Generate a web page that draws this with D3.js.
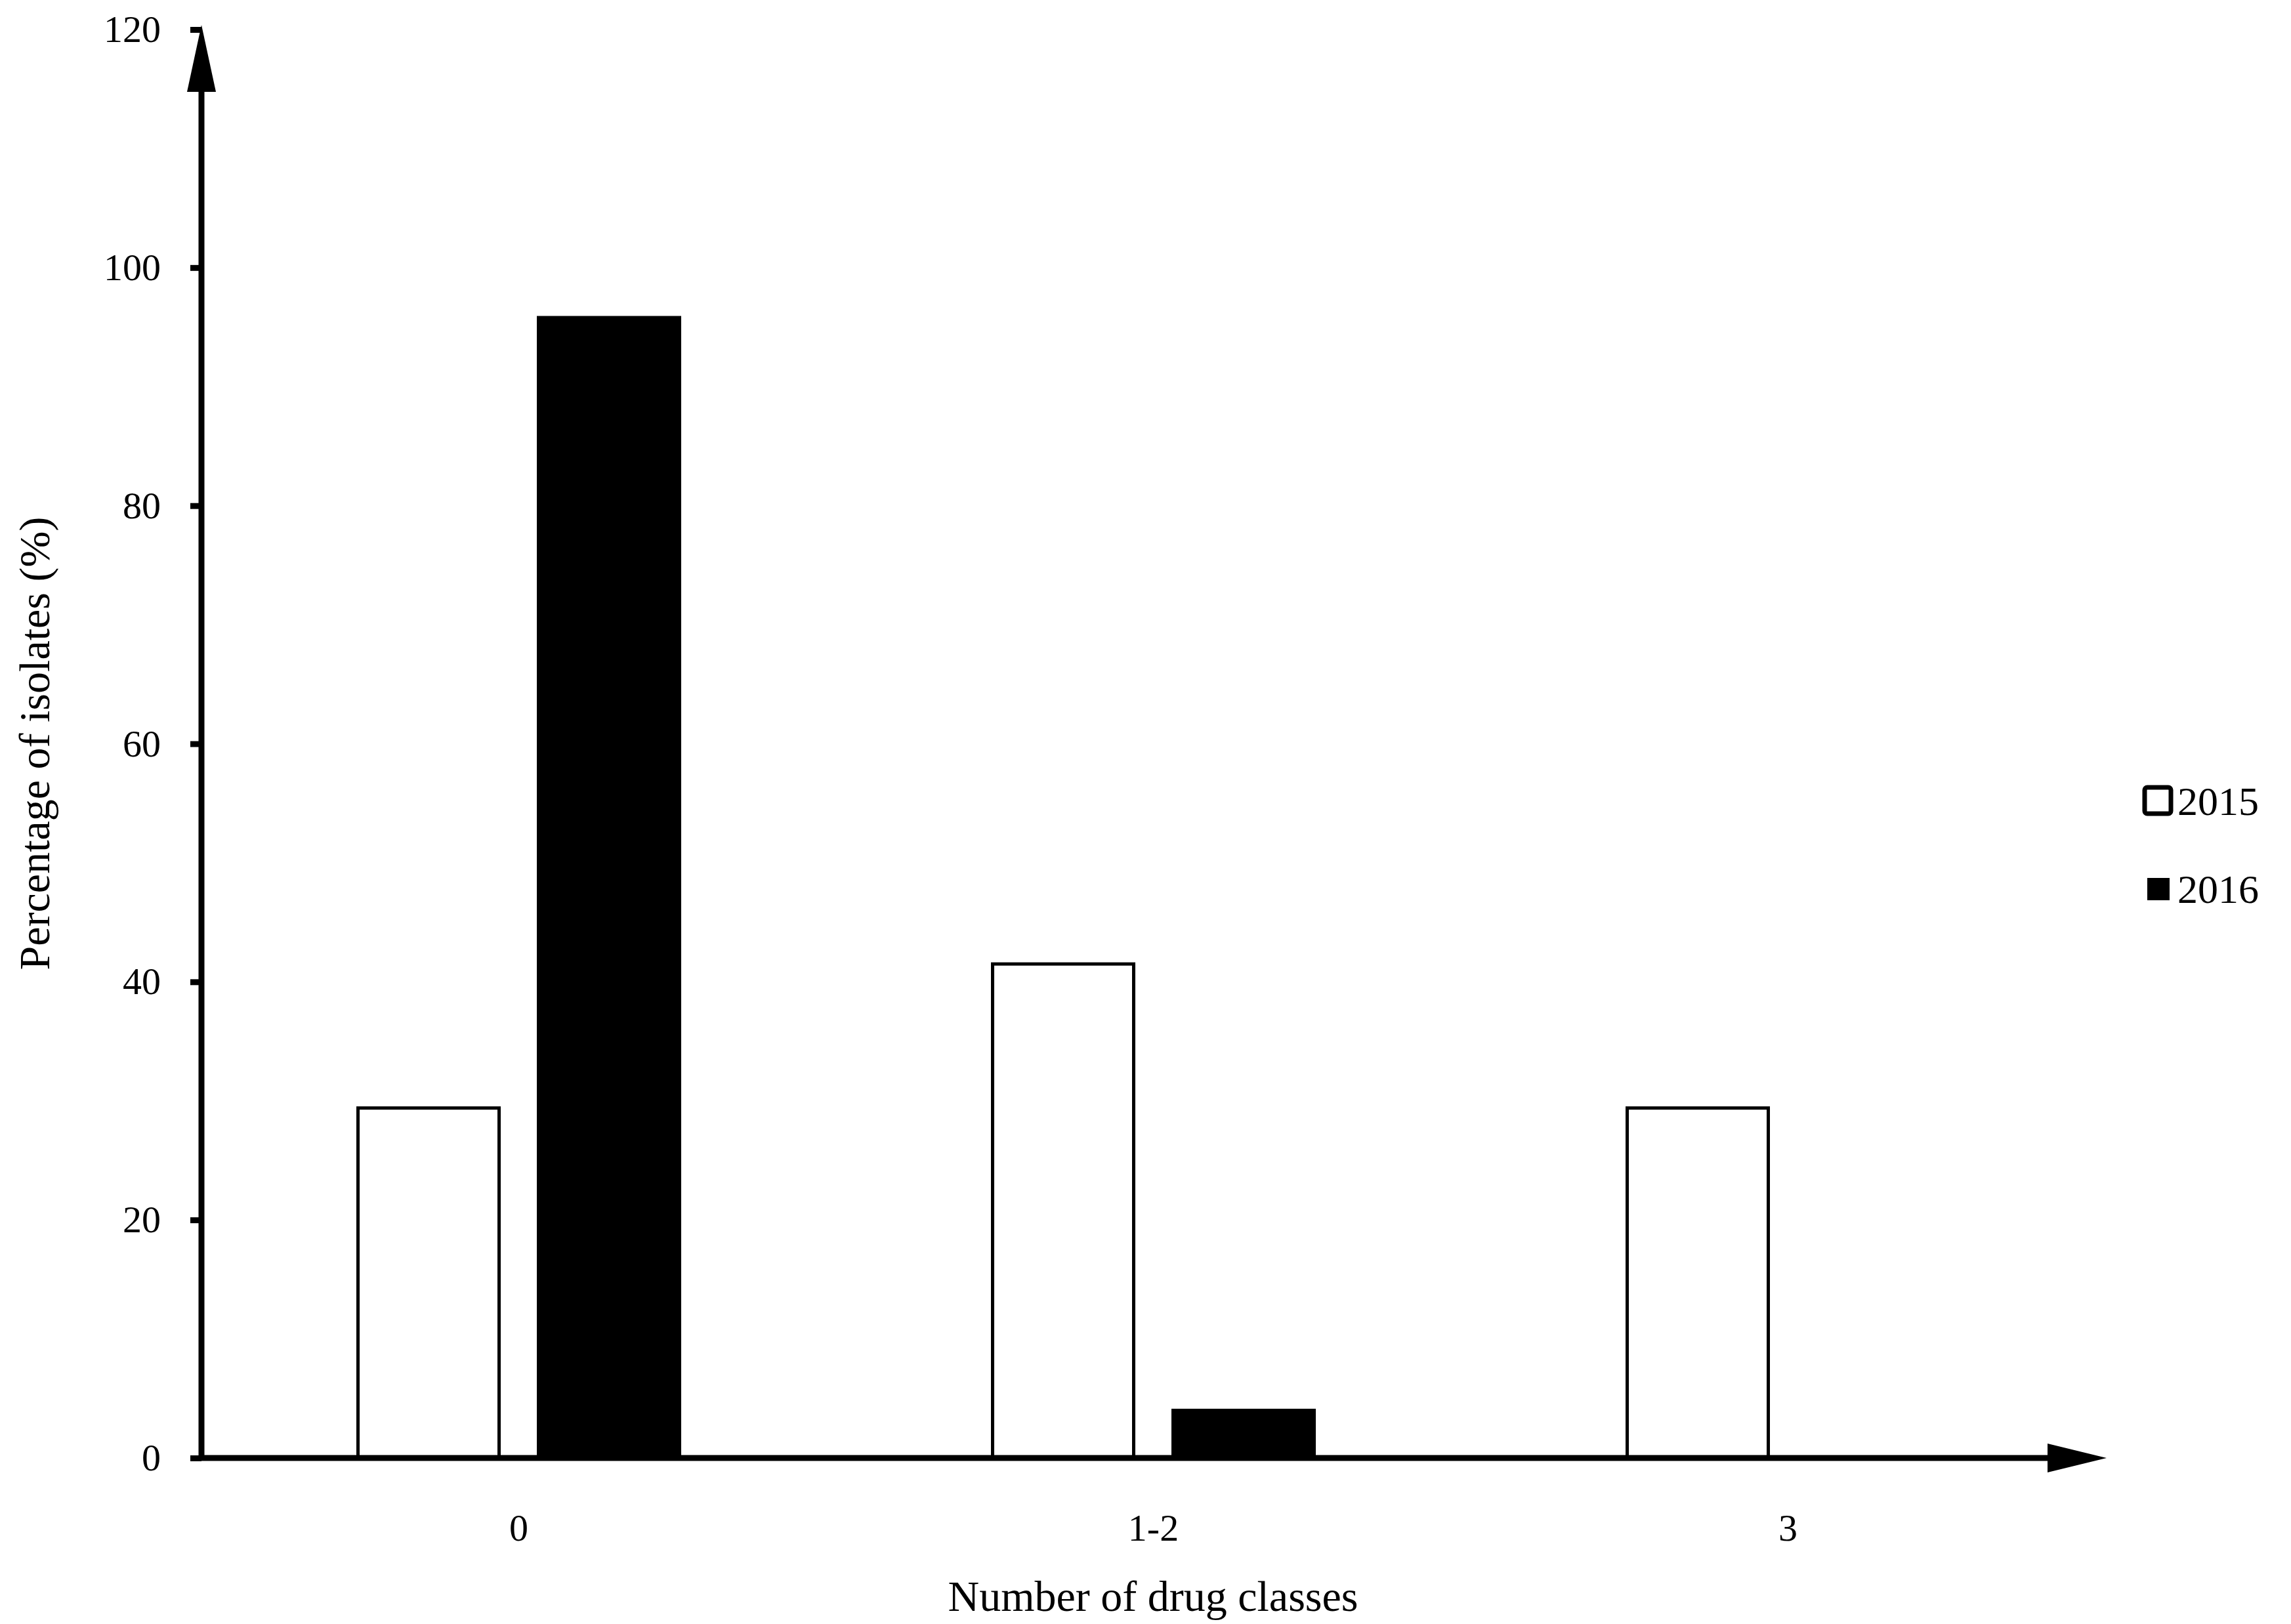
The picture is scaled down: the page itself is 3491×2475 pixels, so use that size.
<!DOCTYPE html><html><head><meta charset="utf-8"><script src="https://cdn.jsdelivr.net/npm/d3@7"></script>
<style>body{margin:0;background:#fff}text{font-family:"Liberation Serif","Times New Roman",serif;fill:#000}</style></head><body><svg id="c" width="3491" height="2475"></svg><script>
const categories=["0","1-2","3"];
const series=["2015","2016"];
const values2015=[29.4,41.5,29.4];
const values2016=[95.8,4.0,0];
const yTicks=[0,20,40,60,80,100,120];
const svg=d3.select("#c");
const x=d3.scaleBand().domain(categories).range([307,3208]);
const y=d3.scaleLinear().domain([0,120]).range([2222,45]);
const bw=215, gap=60;
const data=[];
categories.forEach((c,i)=>{data.push({c,s:0,v:values2015[i]});data.push({c,s:1,v:values2016[i]});});
svg.selectAll("rect.b").data(data.filter(d=>d.v>0)).enter().append("rect")
 .attr("x",d=>x(d.c)+x.bandwidth()/2+(d.s===0?-gap/2-bw:gap/2))
 .attr("y",d=>y(d.v)).attr("width",bw).attr("height",d=>y(0)-y(d.v))
 .attr("fill",d=>d.s?"#000":"#fff").attr("stroke","#000").attr("stroke-width",5);
// y axis
const ya=svg.append("g").attr("transform","translate(307,0)").call(d3.axisLeft(y).tickValues(yTicks).tickSize(17).tickPadding(45));
ya.select(".domain").remove();
ya.selectAll("line").attr("stroke-width",9);
ya.selectAll("text").style("font-size","58px").style("font-family","Liberation Serif");
svg.append("line").attr("x1",307).attr("x2",307).attr("y1",2226).attr("y2",130).attr("stroke","#000").attr("stroke-width",9);
svg.append("path").attr("d","M307,38 L285,140 L329,140 Z").attr("fill","#000");
// x axis
const xa=svg.append("g").attr("transform","translate(0,2222)").call(d3.axisBottom(x).tickSize(0).tickPadding(85));
xa.select(".domain").remove();
xa.selectAll("text").style("font-size","58px").style("font-family","Liberation Serif");
svg.append("line").attr("x1",303).attr("x2",3130).attr("y1",2222).attr("y2",2222).attr("stroke","#000").attr("stroke-width",9);
svg.append("path").attr("d","M3210,2222 L3120,2200 L3120,2244 Z").attr("fill","#000");
svg.append("text").attr("x",1757).attr("y",2455).attr("text-anchor","middle").style("font-size","66px").text("Number of drug classes");
svg.append("text").attr("transform","translate(75,1133) rotate(-90)").attr("text-anchor","middle").style("font-size","66px").text("Percentage of isolates (%)");
// legend
series.forEach((s,i)=>{
 const yy=1220+i*134;
 svg.append("rect").attr("x",3268+(i?4:0)).attr("y",yy-20+(i?4:0)).attr("width",i?34:40).attr("height",i?34:40).attr("rx",i?0:4)
  .attr("fill",i?"#000":"#fff").attr("stroke","#000").attr("stroke-width",i?0:7);
 svg.append("text").attr("x",3318).attr("y",yy+22).style("font-size","62px").text(s);
});
</script></body></html>
